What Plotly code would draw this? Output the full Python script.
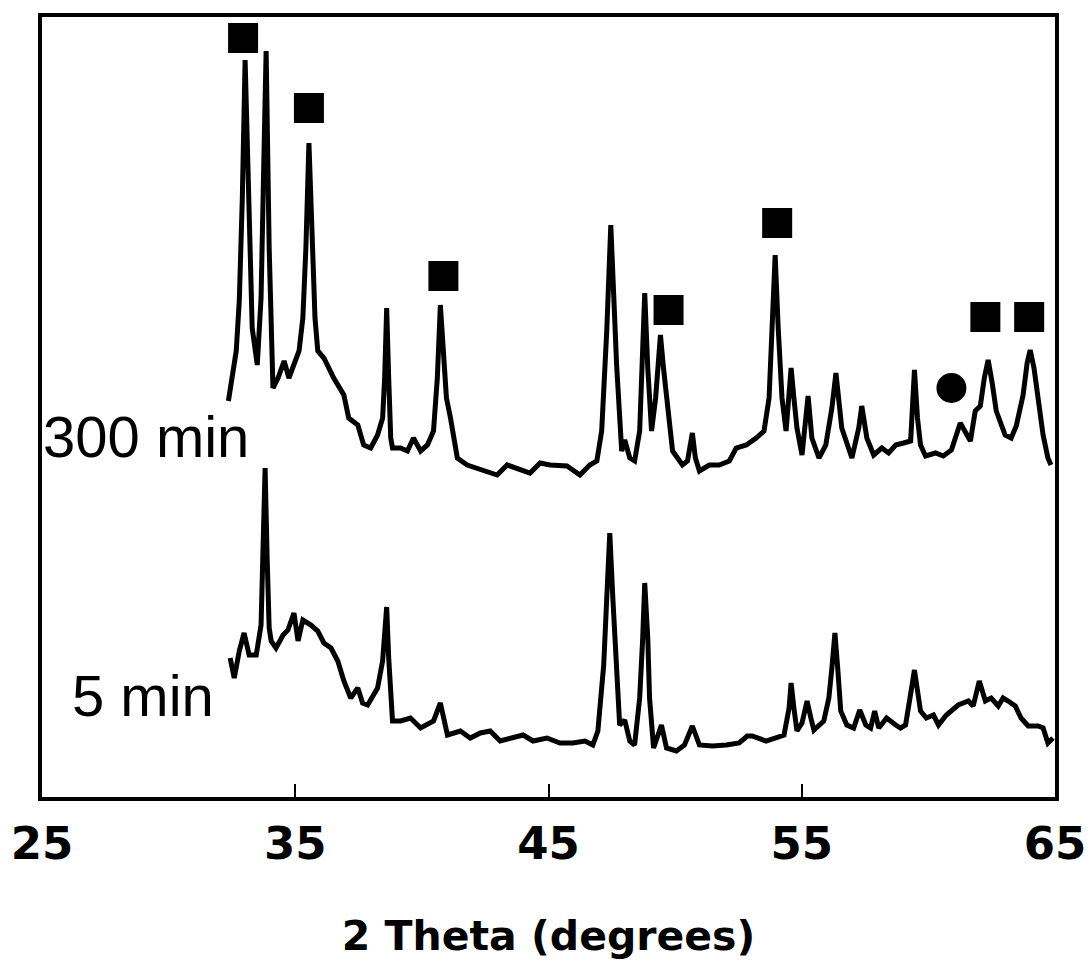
import plotly.graph_objects as go

# ---- 300 min pattern (2θ in degrees, intensity in arbitrary units, offset included) ----
theta_300 = [32.36, 32.47, 32.67, 32.79, 32.91, 33.02, 33.14, 33.30, 33.50, 33.65, 33.77, 33.85, 33.97,
             34.12, 34.32, 34.56, 34.75, 34.95, 35.15, 35.30, 35.42, 35.54, 35.66, 35.78, 35.89, 36.13,
             36.52, 36.92, 37.11, 37.47, 37.70, 37.98, 38.25, 38.45, 38.53, 38.61, 38.69, 38.77, 38.84,
             39.16, 39.43, 39.67, 39.95, 40.22, 40.46, 40.61, 40.73, 40.85, 40.97, 41.13, 41.40, 41.79,
             42.19, 42.58, 42.97, 43.37, 43.76, 44.27, 44.67, 45.06, 45.73, 46.24, 46.63, 46.91, 47.10,
             47.30, 47.46, 47.58, 47.69, 47.89, 48.01, 48.21, 48.40, 48.60, 48.68, 48.80, 48.92, 49.07,
             49.23, 49.42, 49.54, 49.66, 49.90, 50.29, 50.49, 50.68, 50.80, 50.96, 51.35, 51.74, 52.14,
             52.41, 52.81, 53.20, 53.51, 53.71, 53.83, 53.95, 54.07, 54.22, 54.38, 54.50, 54.58, 54.69,
             54.81, 55.01, 55.25, 55.40, 55.68, 55.95, 56.19, 56.35, 56.46, 56.58, 56.98, 57.25, 57.37,
             57.57, 57.84, 58.16, 58.43, 58.71, 59.02, 59.30, 59.37, 59.45, 59.57, 59.69, 59.89, 60.28,
             60.59, 60.91, 61.26, 61.46, 61.66, 61.85, 62.05, 62.21, 62.36, 62.52, 62.68, 63.03, 63.27,
             63.47, 63.74, 63.90, 64.02, 64.17, 64.33, 64.53, 64.72, 64.84]
intensity_300 = [396, 416, 446, 496, 599, 737, 599, 469, 432, 499, 649, 746, 549,
                 409, 419, 436, 419, 432, 446, 479, 549, 654, 569, 479, 446, 439,
                 419, 402, 379, 372, 352, 349, 362, 379, 419, 489, 419, 359, 349,
                 349, 346, 359, 346, 352, 366, 419, 492, 439, 399, 379, 339, 332,
                 329, 326, 322, 332, 329, 324, 334, 332, 331, 322, 332, 336, 366,
                 466, 572, 499, 432, 346, 357, 339, 336, 366, 429, 504, 429, 366,
                 399, 462, 429, 399, 346, 332, 336, 364, 339, 326, 332, 332, 336,
                 349, 352, 359, 366, 399, 469, 542, 469, 399, 366, 399, 429, 399,
                 369, 342, 401, 359, 339, 352, 389, 424, 399, 369, 339, 369, 391,
                 359, 342, 349, 344, 352, 354, 356, 389, 427, 379, 352, 341, 344,
                 341, 347, 374, 364, 356, 386, 391, 419, 437, 414, 386, 362, 359,
                 371, 402, 434, 447, 429, 402, 362, 339, 332]

# ---- 5 min pattern ----
theta_5 = [32.43, 32.59, 32.79, 32.98, 33.18, 33.46, 33.65, 33.73, 33.81, 33.89, 33.97, 34.05, 34.24,
           34.52, 34.71, 34.95, 35.11, 35.30, 35.62, 35.89, 36.13, 36.41, 36.68, 36.92, 37.19, 37.47,
           37.66, 37.86, 38.25, 38.45, 38.53, 38.61, 38.69, 38.77, 38.84, 39.16, 39.55, 39.95, 40.22,
           40.46, 40.73, 40.89, 41.01, 41.52, 41.91, 42.31, 42.70, 43.09, 43.49, 44.00, 44.39, 44.94,
           45.45, 45.96, 46.44, 46.75, 46.95, 47.18, 47.30, 47.42, 47.54, 47.69, 47.81, 48.01, 48.21,
           48.40, 48.60, 48.72, 48.80, 48.92, 48.99, 49.15, 49.46, 49.66, 50.05, 50.37, 50.68, 50.96,
           51.47, 52.02, 52.53, 52.85, 53.04, 53.59, 53.99, 54.30, 54.50, 54.58, 54.69, 54.81, 55.01,
           55.21, 55.36, 55.48, 55.87, 56.07, 56.19, 56.31, 56.42, 56.54, 56.78, 57.05, 57.29, 57.53,
           57.72, 57.88, 58.04, 58.35, 58.71, 58.90, 59.10, 59.30, 59.37, 59.45, 59.57, 59.69, 59.92,
           60.20, 60.40, 60.71, 61.18, 61.58, 61.77, 62.01, 62.25, 62.48, 62.76, 62.95, 63.15, 63.43,
           63.66, 63.94, 64.33, 64.53, 64.72, 64.92]
intensity_5 = [139, 119, 146, 164, 142, 142, 172, 239, 329, 239, 169, 156, 149,
               162, 167, 184, 156, 177, 172, 166, 154, 149, 136, 116, 99, 109,
               94, 92, 109, 136, 159, 190, 139, 99, 76, 76, 79, 69, 72,
               76, 94, 74, 62, 66, 59, 64, 66, 56, 59, 62, 56, 59,
               54, 54, 56, 52, 66, 132, 199, 264, 199, 132, 72, 77, 56,
               52, 99, 159, 214, 159, 99, 49, 72, 49, 46, 52, 71, 52,
               51, 52, 54, 61, 61, 56, 59, 62, 89, 114, 89, 66, 74,
               96, 79, 67, 76, 99, 129, 164, 129, 86, 72, 69, 87, 72,
               69, 86, 69, 79, 72, 69, 72, 99, 114, 127, 104, 86, 79,
               82, 72, 82, 92, 96, 91, 116, 96, 99, 91, 99, 96, 91,
               79, 71, 71, 69, 54, 59]

# ---- phase markers (square = main phase peaks, circle = secondary phase) ----
square_theta = [32.94, 35.54, 40.85, 49.74, 54.03, 62.25, 63.98]
square_level = [759, 689, 521, 487, 574, 480, 480]
circle_theta = [60.91]
circle_level = [409]

# ---- labels ----
trace_labels = ["300 min", "5 min"]
label_theta = [33.26, 31.88]
label_level = [361, 102]

x_ticks = [25, 35, 45, 55, 65]

fig = go.Figure()
fig.add_trace(go.Scatter(x=theta_300, y=intensity_300, mode="lines",
                         line=dict(color="black", width=5), showlegend=False))
fig.add_trace(go.Scatter(x=theta_5, y=intensity_5, mode="lines",
                         line=dict(color="black", width=5), showlegend=False))
fig.add_trace(go.Scatter(x=square_theta, y=square_level, mode="markers",
                         marker=dict(symbol="square", size=30, color="black", line=dict(width=0)),
                         showlegend=False))
fig.add_trace(go.Scatter(x=circle_theta, y=circle_level, mode="markers",
                         marker=dict(symbol="circle", size=30, color="black", line=dict(width=0)),
                         showlegend=False))

for txt, tx, ty in zip(trace_labels, label_theta, label_level):
    fig.add_annotation(x=tx, y=ty, text=txt, showarrow=False, xanchor="right", yanchor="middle",
                       font=dict(family="Liberation Sans, Arial, sans-serif", size=58, color="black"))

fig.update_xaxes(range=[25, 65], tickvals=x_ticks, ticktext=[str(t) for t in x_ticks],
                 showline=True, linecolor="black", linewidth=4, mirror=True,
                 ticks="inside", ticklen=13, tickwidth=2, tickcolor="black",
                 showgrid=False, zeroline=False, ticklabelstandoff=4, automargin=False,
                 tickfont=dict(family="DejaVu Sans", size=45, color="black", weight="bold"),
                 title=dict(text="2 Theta (degrees)", standoff=53,
                            font=dict(family="DejaVu Sans", size=41, color="black", weight="bold")))
fig.update_yaxes(range=[0, 780], showline=True, linecolor="black", linewidth=4, mirror=True,
                 ticks="", showticklabels=False, showgrid=False, zeroline=False, automargin=False)

fig.update_layout(width=1090, height=962, plot_bgcolor="white", paper_bgcolor="white",
                  margin=dict(l=42, r=35, t=17, b=165))

fig.write_html("out.html", config={"displayModeBar": False},
               post_script="document.body.style.margin='0';")
